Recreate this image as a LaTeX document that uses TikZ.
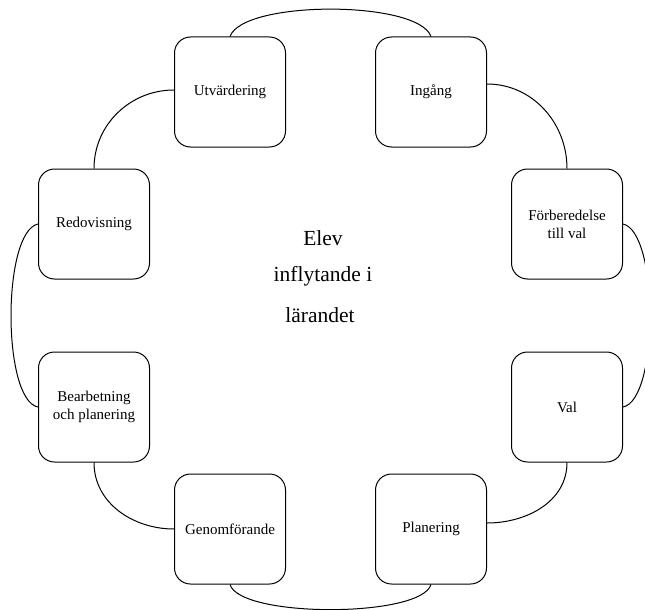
\documentclass[tikz,border=0pt]{standalone}
\usepackage{fontspec}
\setmainfont{Liberation Serif}
\begin{document}
\begin{tikzpicture}[x=1pt,y=-1pt,
  stage/.style={draw, line width=1pt, rounded corners=16pt, minimum width=111pt, minimum height=110pt, align=center, inner sep=2pt, font=\fontsize{15}{18}\selectfont},
  link/.style={line width=1pt},
  centre/.style={anchor=base, font=\fontsize{21.5}{26}\selectfont}]
\useasboundingbox (0,0) rectangle (645,610);
\node[stage] (U) at (230,92) {Utvärdering};
\node[stage] (I) at (431,92) {Ingång};
\node[stage] (F) at (567,224) {Förberedelse\\till val};
\node[stage] (V) at (567,407) {Val};
\node[stage] (P) at (431,529) {Planering};
\node[stage] (G) at (230,529) {Genomförande};
\node[stage] (B) at (94,407) {Bearbetning\\och planering};
\node[stage] (R) at (94,224) {Redovisning};
\node[centre] (c1) at (323,245) {Elev};
\node[centre] (c2) at (323,281) {inflytande i};
\node[centre] (c3) at (320,322) {lärandet};
\draw[link] (U.north) .. controls (243,0) and (418,0) .. (I.north);
\draw[link] ([yshift=8pt]I.east) to[out=0,in=90] (F.north);
\draw[link] (F.east) .. controls (659,232) and (659,400) .. (V.east);
\draw[link] (V.south) to[out=-90,in=0] ([yshift=6pt]P.east);
\draw[link] (P.south) .. controls (421,618) and (240,618) .. (G.south);
\draw[link] (G.west) to[out=180,in=-90] (B.south);
\draw[link] (B.west) .. controls (2,400) and (2,232) .. (R.west);
\draw[link] (R.north) to[out=90,in=180] ([yshift=2pt]U.west);
\end{tikzpicture}
\end{document}
